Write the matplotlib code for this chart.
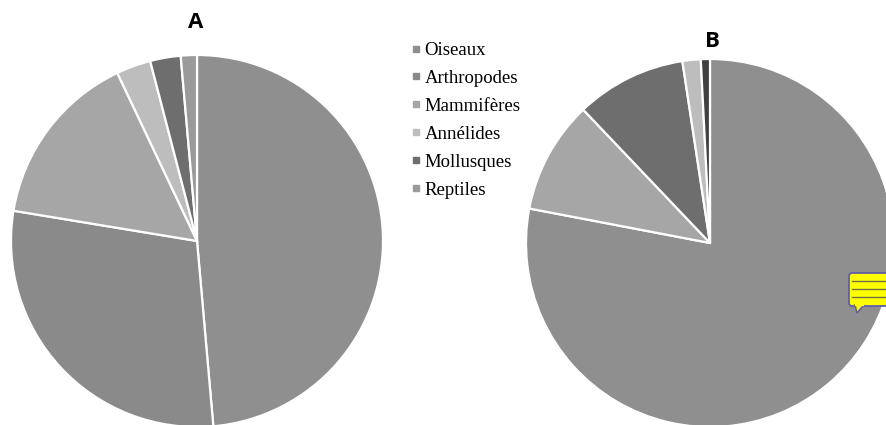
import matplotlib
matplotlib.use("Agg")
from matplotlib import pyplot as plt
from matplotlib.lines import Line2D
from matplotlib.patches import FancyBboxPatch, Polygon

# legend
categories = ["Oiseaux", "Arthropodes", "Mammifères", "Annélides", "Mollusques", "Reptiles"]
legend_colors = ["#8f8f8f", "#8a8a8a", "#a6a6a6", "#bdbdbd", "#6e6e6e", "#9a9a9a"]

# pie A (percent)
values_a = [48.6, 29.0, 15.35, 3.0, 2.65, 1.4]
colors_a = ["#8f8f8f", "#8a8a8a", "#a6a6a6", "#bdbdbd", "#6e6e6e", "#9a9a9a"]

# pie B (percent)
values_b = [78.0, 9.9, 9.7, 1.6, 0.8]
colors_b = ["#8f8f8f", "#a6a6a6", "#6e6e6e", "#bdbdbd", "#404040"]

H = 425
fig = plt.figure(figsize=(8.86, 4.25), dpi=100)
ax = fig.add_axes([0, 0, 1, 1])

wedge = {"edgecolor": "white", "linewidth": 1.6}
ax.pie(values_a, colors=colors_a, center=(197, H - 241), radius=186,
       startangle=90, counterclock=False, wedgeprops=wedge)
ax.pie(values_b, colors=colors_b, center=(710, H - 243), radius=184,
       startangle=90, counterclock=False, wedgeprops=wedge)
ax.set_xlim(0, 886)
ax.set_ylim(0, H)
ax.set_aspect("equal")
ax.axis("off")

# panel letters
ax.text(196, H - 22, "A", family="Open Sans", weight="bold", fontsize=16, ha="center", va="center")
ax.text(712, H - 41, "B", family="Open Sans", weight="bold", fontsize=16, ha="center", va="center")

# legend
handles = [Line2D([], [], linestyle="none", marker="s", markersize=4.5, color=c) for c in legend_colors]
ax.legend(handles, categories, loc="upper left", bbox_to_anchor=(412 / 886, 1 - 42 / H),
          frameon=False, prop={"family": "Liberation Serif", "size": 13.5},
          labelspacing=0.575, handlelength=0.45, handletextpad=0.21, borderpad=0, borderaxespad=0)

# yellow comment icon
ax.add_patch(FancyBboxPatch((849, H - 306), 42, 33, boxstyle="round,pad=0,rounding_size=3",
                            facecolor="#ffff00", edgecolor="#6060a8", linewidth=1.3, zorder=5))
ax.add_patch(Polygon([(855, H - 305), (857, H - 313), (864, H - 305)], facecolor="#ffff00",
                     edgecolor="#6060a8", linewidth=1.2, zorder=5))
ax.plot([856, 863], [H - 305, H - 305], color="#ffff00", linewidth=1.6, zorder=6)
for y in (281, 289, 297):
    ax.plot([852, 886], [H - y, H - y], color="#707050", linewidth=1, zorder=6)

fig.savefig("out.png", dpi=100)
